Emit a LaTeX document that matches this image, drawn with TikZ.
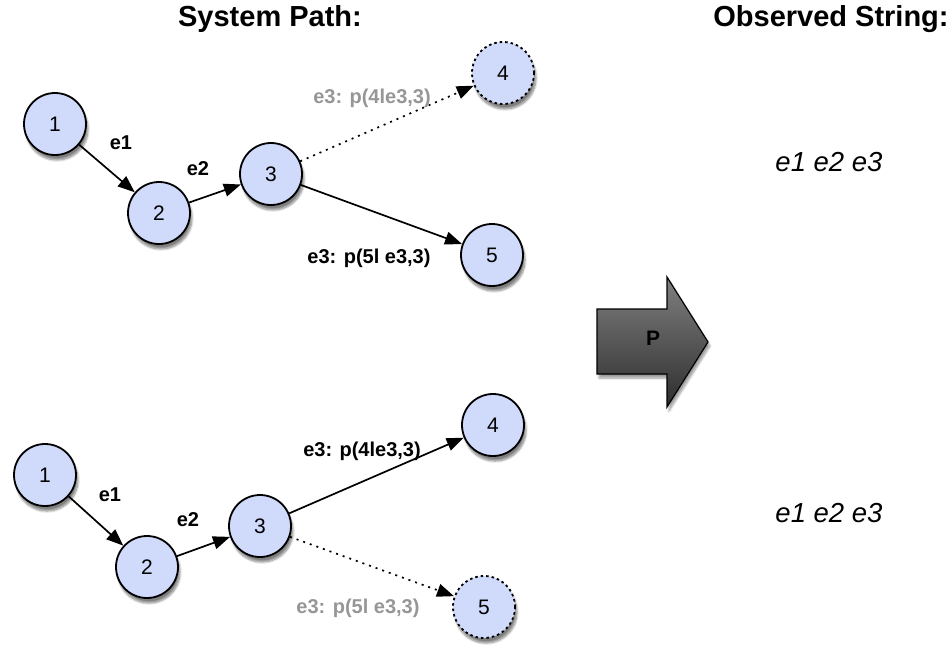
\documentclass[tikz,border=0pt]{standalone}
\usepackage{fontspec}
\setmainfont{Liberation Sans}
\usetikzlibrary{arrows.meta,shadows.blur}

\definecolor{nodefill}{RGB}{208,218,250}
\definecolor{lblgray}{RGB}{150,150,150}

\tikzset{
  state/.style={circle, draw=black, line width=1.8pt, fill=nodefill,
    minimum size=62pt, inner sep=0pt, font=\fontsize{21}{21}\selectfont,
    blur shadow={shadow xshift=2pt, shadow yshift=-5pt,
      shadow blur steps=10, shadow opacity=50}},
  ghost/.style={state, dash pattern=on 2.5pt off 3pt},
  trans/.style={line width=1.7pt, -{Triangle[length=17pt,width=13pt]}},
  dottrans/.style={trans, dash pattern=on 2pt off 5pt},
  elabel/.style={font=\fontsize{20}{20}\selectfont\bfseries},
  glabel/.style={elabel, text=lblgray},
  title/.style={font=\fontsize{29}{29}\selectfont\bfseries, anchor=base},
  obs/.style={font=\fontsize{27.5}{27.5}\selectfont\itshape},
}

\begin{document}
\begin{tikzpicture}[x=1pt, y=-1pt]
  \useasboundingbox (0,0) rectangle (952,648);

  % headings
  \node[title] (hpath) at (270,26) {System Path:};
  \node[title] (hobs)  at (831,26) {Observed String:};

  % upper path: 1 -> 2 -> 3, then 3 -> 5 taken, 3 -> 4 possible
  \node[state] (a1) at (55,124)  {1};
  \node[state] (a2) at (159,213) {2};
  \node[state] (a3) at (271,174) {3};
  \node[ghost] (a4) at (503,73)  {4};
  \node[state] (a5) at (492,255) {5};

  \draw[trans] (a1) -- (a2);
  \draw[trans] (a2) -- (a3);
  \draw[dottrans] (a3) -- (a4);
  \draw[trans] (a3) -- (a5);

  \node[elabel] (la1) at (121,143) {e1};
  \node[elabel] (la2) at (198,169) {e2};
  \node[glabel] (la4) at (372,98)  {e3: p(4le3,3)};
  \node[elabel] (la5) at (369,258) {e3: p(5l e3,3)};

  % lower path: 1 -> 2 -> 3, then 3 -> 4 taken, 3 -> 5 possible
  \node[state] (b1) at (45,475)  {1};
  \node[state] (b2) at (147,567) {2};
  \node[state] (b3) at (260,526) {3};
  \node[state] (b4) at (493,425) {4};
  \node[ghost] (b5) at (484,607) {5};

  \draw[trans] (b1) -- (b2);
  \draw[trans] (b2) -- (b3);
  \draw[trans] (b3) -- (b4);
  \draw[dottrans] (b3) -- (b5);

  \node[elabel] (lb1) at (110,495) {e1};
  \node[elabel] (lb2) at (188,520) {e2};
  \node[elabel] (lb4) at (362,451) {e3: p(4le3,3)};
  \node[glabel] (lb5) at (358,608) {e3: p(5l e3,3)};

  % observed strings
  \node[obs] (oa) at (829,162) {e1 e2 e3};
  \node[obs] (ob) at (829,513) {e1 e2 e3};

  % projection arrow
  \path[blur shadow={shadow xshift=2pt, shadow yshift=-4pt,
      shadow blur steps=8, shadow opacity=40}, fill=black!50]
    (597,309) -- (667,309) -- (667,277) -- (708,342) -- (667,407)
    -- (667,374) -- (597,374) -- cycle;
  \shade[top color=black!50, middle color=black!38, bottom color=black!82,
         draw=black, line width=1.2pt]
    (597,309) -- (667,309) -- (667,277) -- (708,342) -- (667,407)
    -- (667,374) -- (597,374) -- cycle;
  \node[font=\fontsize{21}{21}\selectfont\bfseries] (proj) at (653,338) {P};
\end{tikzpicture}
\end{document}
